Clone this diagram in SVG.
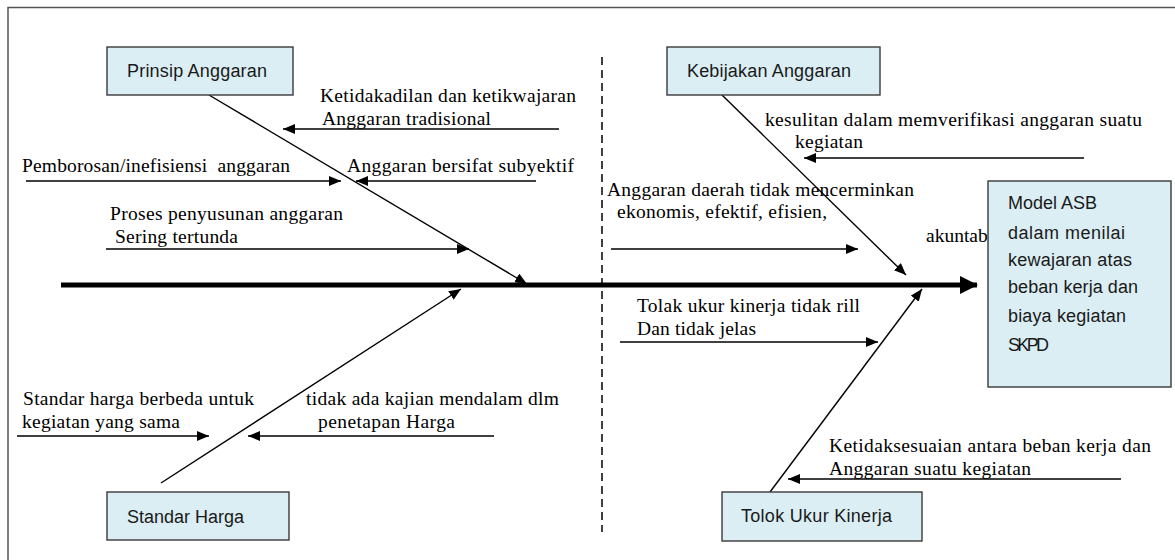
<svg xmlns="http://www.w3.org/2000/svg" width="1175" height="560" viewBox="0 0 1175 560">
<defs>
<style>
.frame{fill:none;stroke:#555;stroke-width:1.5}
.box{fill:#dbeef4;stroke:#3a3a3a;stroke-width:1.4}
.lbl{font-family:"Liberation Sans",Arial,sans-serif;font-size:18px;fill:#1a1a1a}
.cause{font-family:"Liberation Serif","Times New Roman",serif;font-size:19.5px;fill:#000}
.arr{stroke:#000;stroke-width:1.4;fill:none;marker-end:url(#ah)}
.spine{stroke:#000;stroke-width:5;fill:none;marker-end:url(#big)}
.dash{stroke:#000;stroke-width:1.5;stroke-dasharray:8,5;fill:none}
</style>
<marker id="ah" viewBox="0 0 12 10" refX="12" refY="5" markerWidth="12" markerHeight="10" markerUnits="userSpaceOnUse" orient="auto"><path d="M0,0 L12,5 L0,10 z" fill="#000"/></marker>
<marker id="big" viewBox="0 0 18 18" refX="17" refY="9" markerWidth="18" markerHeight="18" markerUnits="userSpaceOnUse" orient="auto"><path d="M0,0 L18,9 L0,18 z" fill="#000"/></marker>
</defs>
<rect x="0" y="0" width="1175" height="560" fill="#fff"/>
<rect class="frame" x="8" y="7.5" width="1200" height="600"/>

<g id="connectors">
<line class="dash" x1="602" y1="57" x2="602" y2="532"/>
<line class="spine" x1="61" y1="285" x2="977" y2="285"/>
<line class="arr" x1="209" y1="95" x2="527" y2="284"/>
<line class="arr" x1="722" y1="95" x2="906" y2="275"/>
<line class="arr" x1="161" y1="483" x2="461" y2="289"/>
<line class="arr" x1="770" y1="492" x2="922" y2="289"/>
<line class="arr" x1="559" y1="129" x2="283" y2="129"/>
<line class="arr" x1="26" y1="181" x2="341" y2="181"/>
<line class="arr" x1="536" y1="181" x2="356" y2="181"/>
<line class="arr" x1="106" y1="249" x2="469" y2="249"/>
<line class="arr" x1="1084" y1="158" x2="804" y2="158"/>
<line class="arr" x1="611" y1="249" x2="858" y2="249"/>
<line class="arr" x1="620" y1="342" x2="878" y2="342"/>
<line class="arr" x1="17" y1="436" x2="209" y2="436"/>
<line class="arr" x1="494" y1="436" x2="248" y2="436"/>
<line class="arr" x1="1121" y1="479" x2="788" y2="479"/>
</g>

<g id="causes">
<text class="cause" x="320" y="102" textLength="256">Ketidakadilan dan ketikwajaran</text>
<text class="cause" x="322" y="125" textLength="169">Anggaran tradisional</text>
<text class="cause" x="22" y="172" textLength="268" xml:space="preserve">Pemborosan/inefisiensi  anggaran</text>
<text class="cause" x="347" y="172" textLength="227">Anggaran bersifat subyektif</text>
<text class="cause" x="110" y="220" textLength="233">Proses penyusunan anggaran</text>
<text class="cause" x="115" y="243" textLength="123">Sering tertunda</text>
<text class="cause" x="765" y="126" textLength="377">kesulitan dalam memverifikasi anggaran suatu</text>
<text class="cause" x="795" y="148" textLength="68">kegiatan</text>
<text class="cause" x="607" y="196" textLength="307">Anggaran daerah tidak mencerminkan</text>
<text class="cause" x="617" y="218" textLength="210">ekonomis, efektif, efisien,</text>
<text class="cause" x="926" y="242">akuntab</text>
<text class="cause" x="637" y="312" textLength="223">Tolak ukur kinerja tidak rill</text>
<text class="cause" x="637" y="335" textLength="119">Dan tidak jelas</text>
<text class="cause" x="23" y="405" textLength="231">Standar harga berbeda untuk</text>
<text class="cause" x="22" y="428" textLength="158">kegiatan yang sama</text>
<text class="cause" x="306" y="405" textLength="253">tidak ada kajian mendalam dlm</text>
<text class="cause" x="318" y="428" textLength="137">penetapan Harga</text>
<text class="cause" x="829" y="452" textLength="322">Ketidaksesuaian antara beban kerja dan</text>
<text class="cause" x="829" y="475" textLength="202">Anggaran suatu kegiatan</text>
</g>

<g id="prinsip-anggaran">
<rect class="box" x="107" y="47" width="186" height="48"/>
<text class="lbl" x="127" y="77" textLength="140">Prinsip Anggaran</text>
</g>
<g id="kebijakan-anggaran">
<rect class="box" x="667" y="47" width="213" height="48"/>
<text class="lbl" x="687" y="77" textLength="164">Kebijakan Anggaran</text>
</g>
<g id="standar-harga">
<rect class="box" x="107" y="492" width="182" height="48"/>
<text class="lbl" x="127" y="523" textLength="117">Standar Harga</text>
</g>
<g id="tolok-ukur-kinerja">
<rect class="box" x="722" y="492" width="200" height="49"/>
<text class="lbl" x="741" y="522" textLength="151">Tolok Ukur Kinerja</text>
</g>
<g id="model-asb">
<rect class="box" x="988" y="181" width="183" height="206"/>
<text class="lbl" x="1008" y="209" textLength="89">Model ASB</text>
<text class="lbl" x="1008" y="239" textLength="117">dalam menilai</text>
<text class="lbl" x="1008" y="266" textLength="124">kewajaran atas</text>
<text class="lbl" x="1008" y="293" textLength="130">beban kerja dan</text>
<text class="lbl" x="1008" y="322" textLength="118">biaya kegiatan</text>
<text class="lbl" x="1008" y="351" textLength="41">SKPD</text>
</g>
</svg>
